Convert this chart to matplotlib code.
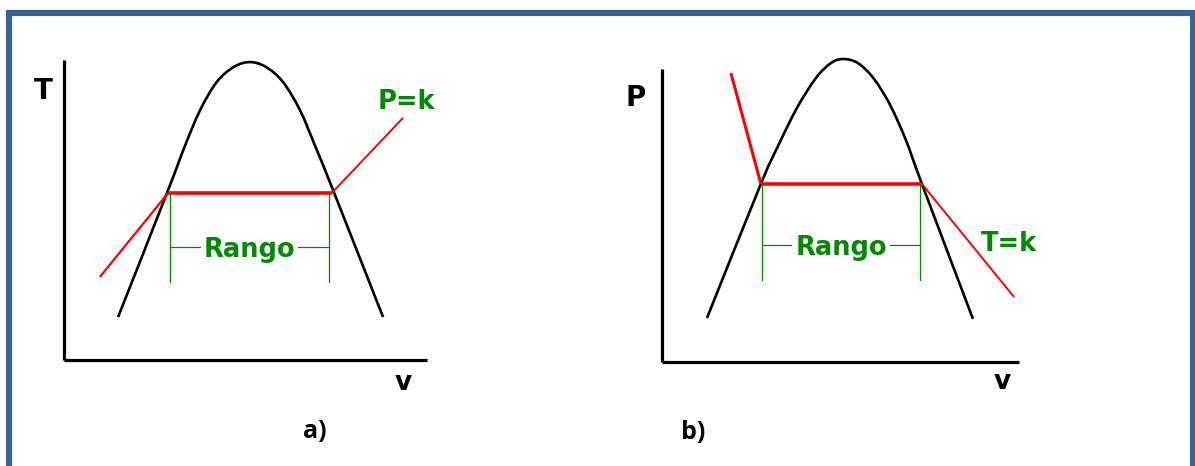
import matplotlib
matplotlib.use("Agg")
import matplotlib.pyplot as plt
from matplotlib.patches import Rectangle, PathPatch
from matplotlib.path import Path

# ---- saturation dome, panel a (T-v), arbitrary units 0..100 ----
dome_a_v = [14.9, 28.7, 33.1, 37.5, 42.1, 46.8, 51.2, 55.6, 60.3, 65.0, 69.4, 74.1, 87.9]
dome_a_T = [14.3, 56.7, 70.7, 83.3, 92.7, 97.7, 99.3, 97.7, 92.7, 83.3, 70.7, 56.7, 14.3]
# isobar P = k in panel a
isobar_v = [9.9, 28.7, 73.8, 93.4]
isobar_T = [27.7, 55.7, 55.7, 80.7]
range_a = [29.2, 73.0]          # ends of the "Rango" bracket
range_a_top, range_a_bottom, range_a_mid = 55.7, 26.0, 37.7

# ---- saturation dome, panel b (P-v) ----
dome_b_v = [12.6, 27.7, 32.5, 37.8, 43.1, 47.3, 50.7, 54.9, 59.4, 63.9, 68.3, 72.8, 87.1]
dome_b_P = [15.0, 60.8, 73.7, 86.7, 96.9, 102.0, 103.4, 102.0, 96.6, 87.7, 75.8, 60.8, 14.7]
# isotherm T = k in panel b
isotherm_v = [19.3, 27.7, 72.8, 98.6]
isotherm_P = [98.6, 60.8, 60.8, 22.2]
range_b = [28.0, 72.3]
range_b_top, range_b_bottom, range_b_mid = 60.8, 28.0, 39.9

W, H = 1195, 466
fig = plt.figure(figsize=(W / 100, H / 100), dpi=100)
fig.patch.set_facecolor("white")

RED = "#ff0000"
GREEN = "#008a00"
FRAME = "#37639b"
TXT = dict(family="DejaVu Sans", weight="bold")


def px_axes(x0, y0, x1, y1):
    """Axes whose data box spans the given pixel corners (origin bottom-left, top-right)."""
    ax = fig.add_axes([x0 / W, 1 - y0 / H, (x1 - x0) / W, (y0 - y1) / H])
    ax.set_xlim(0, 100)
    ax.set_ylim(0, 100)
    ax.set_facecolor("none")
    for s in ("top", "right"):
        ax.spines[s].set_visible(False)
    for s in ("left", "bottom"):
        ax.spines[s].set_linewidth(2.3)
        ax.spines[s].set_color("black")
        ax.spines[s].set_capstyle("butt")
    ax.set_xticks([])
    ax.set_yticks([])
    return ax


def smooth_path(xs, ys):
    """Catmull-Rom curve through the given points, as cubic Bezier segments."""
    pts = list(zip(xs, ys))
    ext = [pts[0]] + pts + [pts[-1]]
    verts = [pts[0]]
    codes = [Path.MOVETO]
    for i in range(1, len(ext) - 2):
        p0, p1, p2, p3 = ext[i - 1], ext[i], ext[i + 1], ext[i + 2]
        c1 = (p1[0] + (p2[0] - p0[0]) / 6, p1[1] + (p2[1] - p0[1]) / 6)
        c2 = (p2[0] - (p3[0] - p1[0]) / 6, p2[1] - (p3[1] - p1[1]) / 6)
        verts += [c1, c2, p2]
        codes += [Path.CURVE4] * 3
    return Path(verts, codes)


def draw_panel(ax, dv, dy, lv, ly, rng, top, bottom, mid, line_widths):
    ax.add_patch(PathPatch(smooth_path(dv, dy), fill=False, ec="black", lw=1.9,
                           clip_on=False, capstyle="butt"))
    # sloped parts of the process line, then the plateau inside the dome
    ax.plot(lv[:2], ly[:2], color=RED, lw=line_widths[0], clip_on=False, solid_capstyle="butt")
    ax.plot(lv[2:], ly[2:], color=RED, lw=line_widths[1], clip_on=False, solid_capstyle="butt")
    ax.plot(lv[1:3], ly[1:3], color=RED, lw=2.6, clip_on=False, solid_capstyle="butt")
    # "Rango" bracket
    for x in rng:
        ax.plot([x, x], [top, bottom], color=GREEN, lw=0.9, clip_on=False)
    ax.plot(rng, [mid, mid], color=GREEN, lw=0.9, clip_on=False)
    ax.text(sum(rng) / 2, mid, "Rango", color=GREEN, fontsize=18.5, ha="center",
            va="center_baseline", bbox=dict(boxstyle="square,pad=0.12", fc="white", ec="none"),
            **TXT)


# panel a
ax_a = px_axes(64, 360, 427, 60)
draw_panel(ax_a, dome_a_v, dome_a_T, isobar_v, isobar_T, range_a,
           range_a_top, range_a_bottom, range_a_mid, (1.6, 1.4))
ax_a.text(-5.8, 89.7, "T", fontsize=20, ha="center", va="center", color="black", **TXT)
ax_a.text(93.4, -7.7, "v", fontsize=19, ha="center", va="center", color="black", **TXT)
ax_a.text(94.2, 86.0, "P=k", fontsize=18.5, ha="center", va="center", color=GREEN, **TXT)
ax_a.text(69.1, -24.0, "a)", fontsize=18, ha="center", va="center", color="black",
          family="Open Sans", weight="bold")

# panel b
ax_b = px_axes(662, 362, 1019, 69)
draw_panel(ax_b, dome_b_v, dome_b_P, isotherm_v, isotherm_P, range_b,
           range_b_top, range_b_bottom, range_b_mid, (2.2, 1.4))
ax_b.text(-7.3, 90.1, "P", fontsize=20, ha="center", va="center", color="black", **TXT)
ax_b.text(95.2, -6.8, "v", fontsize=19, ha="center", va="center", color="black", **TXT)
ax_b.text(97.2, 40.3, "T=k", fontsize=18.5, ha="center", va="center", color=GREEN, **TXT)
ax_b.text(8.7, -23.9, "b)", fontsize=18, ha="center", va="center", color="black",
          family="Open Sans", weight="bold")

# blue frame around the figure (open at the bottom edge)
fig.patches.append(Rectangle((9 / W, -0.1), (1192.5 - 9) / W, 1.1 - 13 / H,
                             transform=fig.transFigure, fill=False, ec=FRAME, lw=4.4,
                             joinstyle="miter"))

fig.savefig("out.png", dpi=100, facecolor="white")
